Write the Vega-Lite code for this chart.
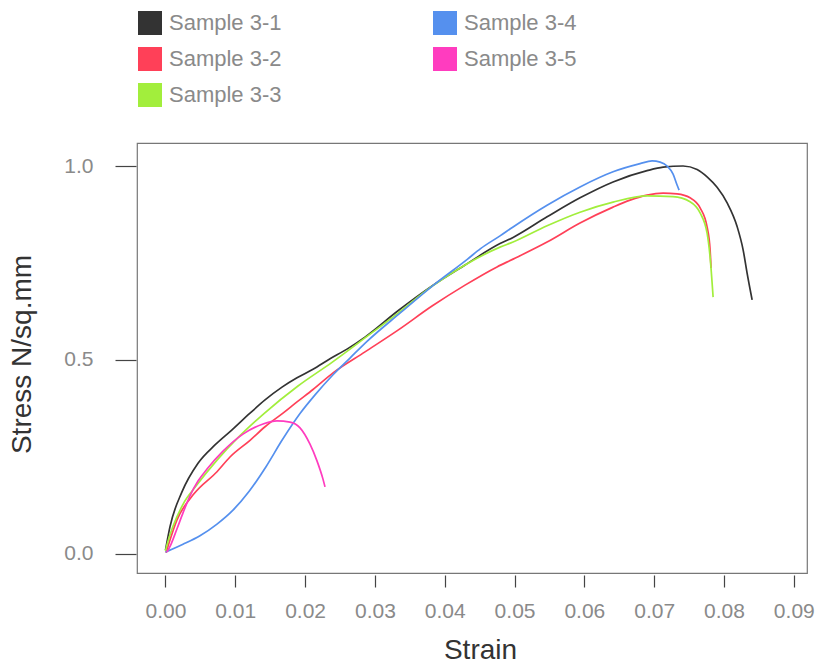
{
  "$schema": "https://vega.github.io/schema/vega-lite/v6.json",
  "width": 670,
  "height": 430,
  "autosize": {"type": "none"},
  "padding": {"left": 137, "top": 143, "right": 15, "bottom": 94},
  "background": "white",
  "config": {
    "view": {"stroke": "#777777", "strokeWidth": 1.2},
    "font": "Liberation Sans"
  },
  "data": {"values": [
    {"s":"Sample 3-1","x":0.0000,"y":0.010},
    {"s":"Sample 3-1","x":0.00064,"y":0.070},
    {"s":"Sample 3-1","x":0.00236,"y":0.160},
    {"s":"Sample 3-1","x":0.00466,"y":0.234},
    {"s":"Sample 3-1","x":0.00709,"y":0.281},
    {"s":"Sample 3-1","x":0.00953,"y":0.320},
    {"s":"Sample 3-1","x":0.01211,"y":0.363},
    {"s":"Sample 3-1","x":0.01426,"y":0.397},
    {"s":"Sample 3-1","x":0.01669,"y":0.430},
    {"s":"Sample 3-1","x":0.01884,"y":0.454},
    {"s":"Sample 3-1","x":0.02113,"y":0.476},
    {"s":"Sample 3-1","x":0.02357,"y":0.503},
    {"s":"Sample 3-1","x":0.02600,"y":0.528},
    {"s":"Sample 3-1","x":0.02858,"y":0.559},
    {"s":"Sample 3-1","x":0.03331,"y":0.627},
    {"s":"Sample 3-1","x":0.03818,"y":0.691},
    {"s":"Sample 3-1","x":0.04291,"y":0.745},
    {"s":"Sample 3-1","x":0.04792,"y":0.800},
    {"s":"Sample 3-1","x":0.04979,"y":0.816},
    {"s":"Sample 3-1","x":0.05466,"y":0.869},
    {"s":"Sample 3-1","x":0.05938,"y":0.918},
    {"s":"Sample 3-1","x":0.06411,"y":0.959},
    {"s":"Sample 3-1","x":0.06898,"y":0.988},
    {"s":"Sample 3-1","x":0.07128,"y":0.997},
    {"s":"Sample 3-1","x":0.07414,"y":1.000},
    {"s":"Sample 3-1","x":0.07615,"y":0.991},
    {"s":"Sample 3-1","x":0.07758,"y":0.972},
    {"s":"Sample 3-1","x":0.07901,"y":0.945},
    {"s":"Sample 3-1","x":0.08045,"y":0.905},
    {"s":"Sample 3-1","x":0.08188,"y":0.844},
    {"s":"Sample 3-1","x":0.08274,"y":0.784},
    {"s":"Sample 3-1","x":0.08331,"y":0.724},
    {"s":"Sample 3-1","x":0.08403,"y":0.655},

    {"s":"Sample 3-2","x":0.00007,"y":0.003},
    {"s":"Sample 3-2","x":0.00165,"y":0.088},
    {"s":"Sample 3-2","x":0.00408,"y":0.155},
    {"s":"Sample 3-2","x":0.00738,"y":0.212},
    {"s":"Sample 3-2","x":0.00924,"y":0.250},
    {"s":"Sample 3-2","x":0.01211,"y":0.293},
    {"s":"Sample 3-2","x":0.01426,"y":0.328},
    {"s":"Sample 3-2","x":0.01683,"y":0.363},
    {"s":"Sample 3-2","x":0.01884,"y":0.392},
    {"s":"Sample 3-2","x":0.02113,"y":0.424},
    {"s":"Sample 3-2","x":0.02400,"y":0.467},
    {"s":"Sample 3-2","x":0.02858,"y":0.521},
    {"s":"Sample 3-2","x":0.03331,"y":0.577},
    {"s":"Sample 3-2","x":0.03818,"y":0.639},
    {"s":"Sample 3-2","x":0.04291,"y":0.693},
    {"s":"Sample 3-2","x":0.04749,"y":0.740},
    {"s":"Sample 3-2","x":0.04979,"y":0.760},
    {"s":"Sample 3-2","x":0.05466,"y":0.804},
    {"s":"Sample 3-2","x":0.05938,"y":0.853},
    {"s":"Sample 3-2","x":0.06411,"y":0.894},
    {"s":"Sample 3-2","x":0.06655,"y":0.912},
    {"s":"Sample 3-2","x":0.06898,"y":0.925},
    {"s":"Sample 3-2","x":0.07128,"y":0.930},
    {"s":"Sample 3-2","x":0.07328,"y":0.928},
    {"s":"Sample 3-2","x":0.07514,"y":0.918},
    {"s":"Sample 3-2","x":0.07658,"y":0.892},
    {"s":"Sample 3-2","x":0.07758,"y":0.843},
    {"s":"Sample 3-2","x":0.07801,"y":0.784},
    {"s":"Sample 3-2","x":0.07815,"y":0.737},

    {"s":"Sample 3-3","x":0.0000,"y":0.008},
    {"s":"Sample 3-3","x":0.00021,"y":0.023},
    {"s":"Sample 3-3","x":0.00251,"y":0.128},
    {"s":"Sample 3-3","x":0.00437,"y":0.175},
    {"s":"Sample 3-3","x":0.00738,"y":0.242},
    {"s":"Sample 3-3","x":0.01067,"y":0.305},
    {"s":"Sample 3-3","x":0.01411,"y":0.362},
    {"s":"Sample 3-3","x":0.01898,"y":0.433},
    {"s":"Sample 3-3","x":0.02385,"y":0.494},
    {"s":"Sample 3-3","x":0.02858,"y":0.557},
    {"s":"Sample 3-3","x":0.03331,"y":0.621},
    {"s":"Sample 3-3","x":0.03818,"y":0.690},
    {"s":"Sample 3-3","x":0.04291,"y":0.745},
    {"s":"Sample 3-3","x":0.04792,"y":0.791},
    {"s":"Sample 3-3","x":0.04979,"y":0.804},
    {"s":"Sample 3-3","x":0.05466,"y":0.846},
    {"s":"Sample 3-3","x":0.05938,"y":0.881},
    {"s":"Sample 3-3","x":0.06411,"y":0.907},
    {"s":"Sample 3-3","x":0.06898,"y":0.923},
    {"s":"Sample 3-3","x":0.07270,"y":0.921},
    {"s":"Sample 3-3","x":0.07514,"y":0.908},
    {"s":"Sample 3-3","x":0.07658,"y":0.879},
    {"s":"Sample 3-3","x":0.07758,"y":0.827},
    {"s":"Sample 3-3","x":0.07801,"y":0.765},
    {"s":"Sample 3-3","x":0.07844,"y":0.662},

    {"s":"Sample 3-4","x":0.0000,"y":0.005},
    {"s":"Sample 3-4","x":0.00093,"y":0.012},
    {"s":"Sample 3-4","x":0.00251,"y":0.025},
    {"s":"Sample 3-4","x":0.00494,"y":0.047},
    {"s":"Sample 3-4","x":0.00738,"y":0.077},
    {"s":"Sample 3-4","x":0.00967,"y":0.113},
    {"s":"Sample 3-4","x":0.01196,"y":0.161},
    {"s":"Sample 3-4","x":0.01440,"y":0.225},
    {"s":"Sample 3-4","x":0.01669,"y":0.293},
    {"s":"Sample 3-4","x":0.01927,"y":0.362},
    {"s":"Sample 3-4","x":0.02142,"y":0.410},
    {"s":"Sample 3-4","x":0.02400,"y":0.462},
    {"s":"Sample 3-4","x":0.02643,"y":0.505},
    {"s":"Sample 3-4","x":0.02887,"y":0.548},
    {"s":"Sample 3-4","x":0.03367,"y":0.622},
    {"s":"Sample 3-4","x":0.03840,"y":0.693},
    {"s":"Sample 3-4","x":0.04327,"y":0.760},
    {"s":"Sample 3-4","x":0.04513,"y":0.787},
    {"s":"Sample 3-4","x":0.04792,"y":0.820},
    {"s":"Sample 3-4","x":0.04979,"y":0.843},
    {"s":"Sample 3-4","x":0.05466,"y":0.899},
    {"s":"Sample 3-4","x":0.05938,"y":0.946},
    {"s":"Sample 3-4","x":0.06411,"y":0.985},
    {"s":"Sample 3-4","x":0.06798,"y":1.006},
    {"s":"Sample 3-4","x":0.06970,"y":1.013},
    {"s":"Sample 3-4","x":0.07085,"y":1.010},
    {"s":"Sample 3-4","x":0.07185,"y":1.000},
    {"s":"Sample 3-4","x":0.07271,"y":0.979},
    {"s":"Sample 3-4","x":0.07328,"y":0.951},
    {"s":"Sample 3-4","x":0.07357,"y":0.938},

    {"s":"Sample 3-5","x":0.00021,"y":0.005},
    {"s":"Sample 3-5","x":0.00079,"y":0.025},
    {"s":"Sample 3-5","x":0.00165,"y":0.065},
    {"s":"Sample 3-5","x":0.00251,"y":0.106},
    {"s":"Sample 3-5","x":0.00351,"y":0.150},
    {"s":"Sample 3-5","x":0.00466,"y":0.188},
    {"s":"Sample 3-5","x":0.00595,"y":0.219},
    {"s":"Sample 3-5","x":0.00824,"y":0.265},
    {"s":"Sample 3-5","x":0.01110,"y":0.309},
    {"s":"Sample 3-5","x":0.01397,"y":0.335},
    {"s":"Sample 3-5","x":0.01597,"y":0.343},
    {"s":"Sample 3-5","x":0.01784,"y":0.340},
    {"s":"Sample 3-5","x":0.01927,"y":0.325},
    {"s":"Sample 3-5","x":0.02070,"y":0.283},
    {"s":"Sample 3-5","x":0.02170,"y":0.240},
    {"s":"Sample 3-5","x":0.02256,"y":0.193},
    {"s":"Sample 3-5","x":0.02285,"y":0.173}
  ]},
  "mark": {"type": "line", "strokeWidth": 1.7, "interpolate": "monotone"},
  "encoding": {
    "x": {
      "field": "x", "type": "quantitative",
      "scale": {"domain": [-0.00408, 0.09189], "nice": false, "zero": false},
      "axis": {
        "values": [0, 0.01, 0.02, 0.03, 0.04, 0.05, 0.06, 0.07, 0.08, 0.09],
        "format": ".2f", "grid": false, "domain": false,
        "offset": 2, "tickSize": 12, "tickColor": "#444444", "tickWidth": 1.2,
        "labelFontSize": 21, "labelColor": "#8a8a8a", "labelPadding": 13,
        "title": "Strain", "titleFontSize": 28, "titleFontWeight": "normal",
        "titleColor": "#333333", "titlePadding": 15, "titleX": 343
      }
    },
    "y": {
      "field": "y", "type": "quantitative",
      "scale": {"domain": [-0.049, 1.0593], "nice": false, "zero": false},
      "axis": {
        "values": [0, 0.5, 1.0],
        "format": ".1f", "grid": false, "domain": false,
        "offset": 1, "tickSize": 21, "tickColor": "#444444", "tickWidth": 1.2,
        "labelFontSize": 21, "labelColor": "#8a8a8a", "labelPadding": 22,
        "title": "Stress N/sq.mm", "titleFontSize": 28, "titleFontWeight": "normal",
        "titleColor": "#333333", "titlePadding": 27, "titleY": 211
      }
    },
    "color": {
      "field": "s", "type": "nominal",
      "scale": {
        "domain": ["Sample 3-1", "Sample 3-2", "Sample 3-3", "Sample 3-4", "Sample 3-5"],
        "range": ["#333333", "#ff4058", "#a2ee3c", "#5590ee", "#ff3cbf"]
      },
      "legend": {
        "title": null, "orient": "none", "legendX": 1, "legendY": -132,
        "columns": 2, "columnPadding": 151, "rowPadding": 12,
        "symbolType": "square", "symbolSize": 576, "symbolStrokeWidth": 0,
        "symbolOpacity": 1,
        "labelFontSize": 22, "labelColor": "#8a8a8a", "labelOffset": 7,
        "labelLimit": 300, "padding": 0,
        "encode": {
          "symbols": {
            "update": {
              "fill": {"scale": "color", "field": "value"},
              "stroke": {"value": "transparent"},
              "opacity": {"value": 1}
            }
          }
        }
      }
    }
  }
}
